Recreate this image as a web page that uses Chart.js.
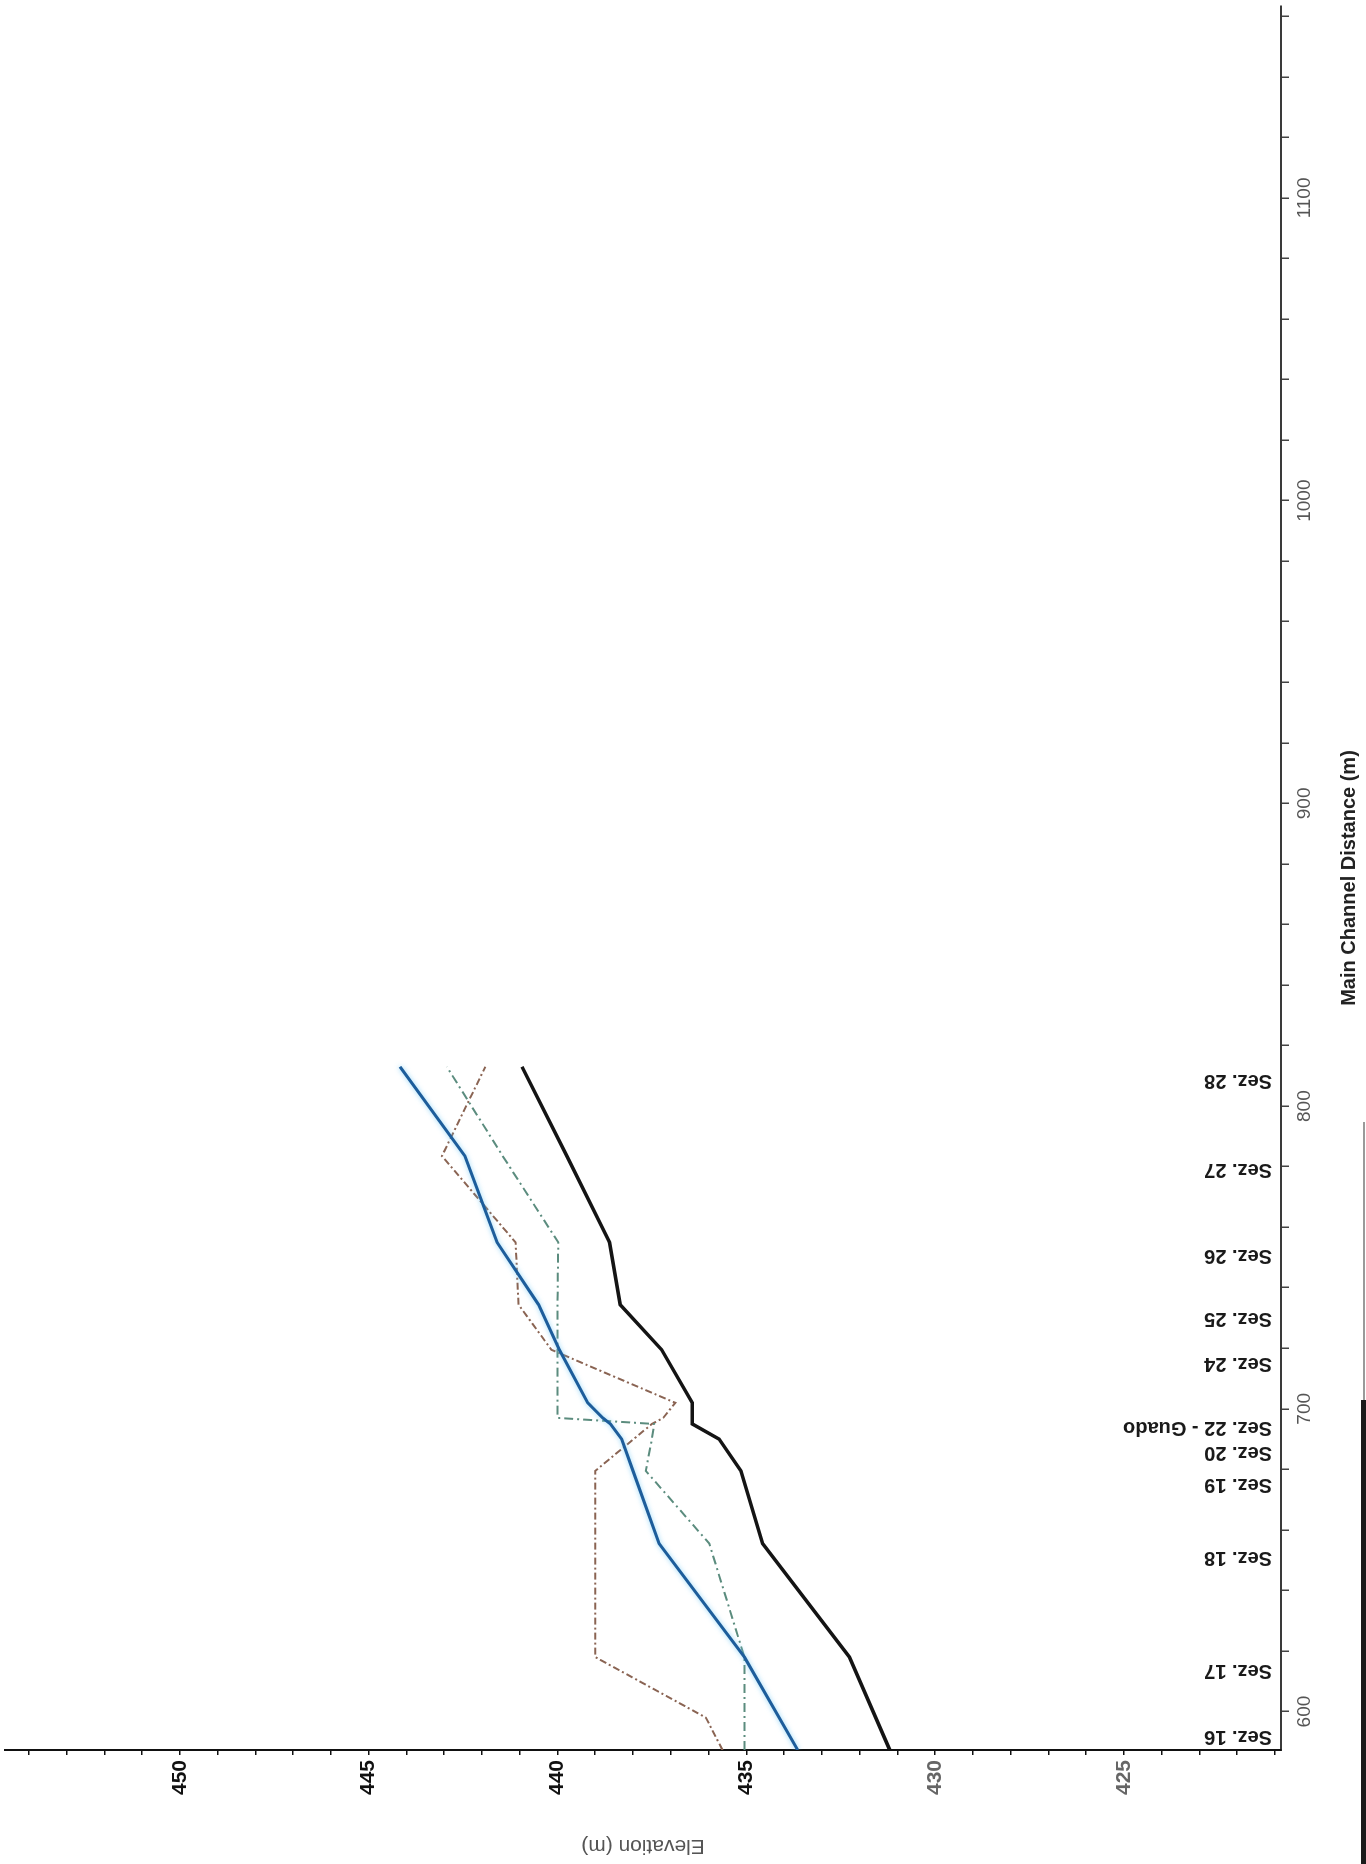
<!DOCTYPE html>
<html>
<head>
<meta charset="utf-8">
<script src="https://cdn.jsdelivr.net/npm/chart.js@4.4.1/dist/chart.umd.min.js"></script>
<style>
  html, body { margin: 0; padding: 0; background: #fff; }
  body { width: 1366px; height: 1864px; position: relative; overflow: hidden; }
  #rot { position: absolute; left: 0; top: 0; width: 1864px; height: 1366px;
         transform-origin: 0 0; transform: translate(0px, 1864px) rotate(-90deg); }
  #edgeThin { position: absolute; left: 1363px; top: 1122px; width: 2px; height: 280px; background: #9a9a9a; }
  #edgeThick { position: absolute; left: 1361px; top: 1400px; width: 5px; height: 464px; background: #1a1a1a; }
</style>
</head>
<body>
<div id="rot"><canvas id="c" width="1864" height="1366"></canvas></div>
<div id="edgeThin"></div>
<div id="edgeThick"></div>
<script>
// ---- data (main channel distance in m, elevation in m) ----
const stations     = [587.3, 598, 618, 655.5, 679.5, 690, 695, 697, 702, 719.5, 734.4, 755, 783.5, 813];
const groundElev   = [431.2, null, 432.27, 434.57, 435.14, 435.72, 436.43, 436.43, 436.43, 437.24, 438.34, 438.62, 439.75, 440.94];
const wsElev       = [433.64, null, 435.05, 437.31, 438.0, 438.3, 438.6, 438.8, 439.2, 439.95, 440.5, 441.6, 442.45, 444.17];
const leftBankElev = [435.05, null, 435.05, 435.98, 437.66, 437.5, 437.44, 440.0, 440.0, 440.0, 440.0, 439.98, 441.45, 442.93];
const rightBankElev= [435.63, 436.07, 439.0, 439.0, 439.0, null, 437.5, 437.2, 436.88, 440.16, 441.03, 441.11, 443.06, 441.91];

const sectionNames = ['Sez. 16', 'Sez. 17', 'Sez. 18', 'Sez. 19', 'Sez. 20', 'Sez. 22 - Guado',
                      'Sez. 24', 'Sez. 25', 'Sez. 26', 'Sez. 27', 'Sez. 28'];
const sectionPos   = [587.3, 618, 655.5, 679.5, 690, 698.3, 719.5, 734.4, 755, 783.5, 813];

const distanceTickLabels  = [600, 700, 800, 900, 1000, 1100];
const elevationTickLabels = [425, 430, 435, 440, 445, 450];

const distRange = { min: 587.3, max: 1163.4 };
const elevRange = { min: 420.84, max: 454.63 };

// minor tick mark positions
const distMinor = [];
for (let v = 600; v <= 1160; v += 20) distMinor.push(v);
const elevMinor = [];
for (let v = 421; v <= 454; v += 1) elevMinor.push(v);

function pts(vals) {
  return stations.map((s, i) => ({ x: s, y: vals[i] }));
}

const FONT = '"Liberation Sans", Arial, sans-serif';

const sectionLabelPlugin = {
  id: 'sectionLabels',
  beforeDatasetDraw(chart, args) {
    if (args.index === 1) {
      const ctx = chart.ctx;
      ctx.save();
      ctx.shadowColor = 'rgba(110, 200, 245, 0.75)';
      ctx.shadowBlur = 5;
    }
  },
  afterDatasetDraw(chart, args) {
    if (args.index === 1) chart.ctx.restore();
  },
  afterDatasetsDraw(chart) {
    const { ctx, chartArea, scales } = chart;
    const xs = scales.x;
    ctx.save();
    ctx.font = 'bold 20px ' + FONT;
    ctx.fillStyle = '#1a1a1a';
    ctx.textAlign = 'left';
    ctx.textBaseline = 'middle';
    sectionNames.forEach((name, i) => {
      let px = xs.getPixelForValue(sectionPos[i]) - 13.5;
      px = Math.max(px, chartArea.left + 13);
      ctx.save();
      ctx.translate(px, chartArea.bottom - 9);
      ctx.rotate(-Math.PI / 2);
      ctx.fillText(name, 0, 0);
      ctx.restore();
    });
    ctx.restore();
  }
};

new Chart(document.getElementById('c'), {
  type: 'line',
  data: {
    datasets: [
      { label: 'Ground', data: pts(groundElev), borderColor: '#141414', borderWidth: 3.5,
        pointRadius: 0, spanGaps: true, tension: 0 },
      { label: 'WS', data: pts(wsElev), borderColor: '#1d5d9b', borderWidth: 3,
        pointRadius: 0, spanGaps: true, tension: 0 },
      { label: 'Left Bank', data: pts(leftBankElev), borderColor: '#5b8c7e', borderWidth: 2,
        borderDash: [9, 4, 2, 4], pointRadius: 0, spanGaps: true, tension: 0 },
      { label: 'Right Bank', data: pts(rightBankElev), borderColor: '#8a6453', borderWidth: 2,
        borderDash: [7, 3, 2, 3], pointRadius: 0, spanGaps: true, tension: 0 }
    ]
  },
  options: {
    responsive: false,
    animation: false,
    devicePixelRatio: 1,
    layout: { padding: { top: 5, right: 6, bottom: 0, left: 0 } },
    plugins: { legend: { display: false }, tooltip: { enabled: false } },
    scales: {
      x: {
        type: 'linear',
        position: 'bottom',
        min: distRange.min,
        max: distRange.max,
        afterBuildTicks: (s) => { s.ticks = distMinor.map(v => ({ value: v })); },
        afterFit: (s) => { s.height = 85; s.paddingLeft = 0; s.paddingRight = 0; },
        grid: { drawOnChartArea: false, drawTicks: true, tickLength: 8, color: '#444', lineWidth: 1.5 },
        border: { display: true, color: '#3a3a3a', width: 2 },
        ticks: {
          autoSkip: false, maxRotation: 0, minRotation: 0, padding: 4,
          color: '#555',
          font: { family: FONT, size: 19 },
          callback: (v) => distanceTickLabels.includes(v) ? String(v) : ''
        },
        title: {
          display: true, text: 'Main Channel Distance (m)', color: '#222',
          font: { family: FONT, size: 20, weight: 'bold' },
          padding: { top: 0, bottom: 5 }
        }
      },
      y: {
        type: 'linear',
        position: 'left',
        min: elevRange.min,
        max: elevRange.max,
        afterBuildTicks: (s) => { s.ticks = elevMinor.map(v => ({ value: v })); },
        afterFit: (s) => { s.width = 114; s.paddingTop = 0; s.paddingBottom = 0; },
        grid: { drawOnChartArea: false, drawTicks: true, tickLength: 5, color: '#111', lineWidth: 1.5 },
        border: { display: true, color: '#111', width: 2 },
        ticks: {
          autoSkip: false, padding: 5,
          color: (ctx) => (ctx.tick && ctx.tick.value <= 430) ? '#666' : '#111',
          font: { family: FONT, size: 21, weight: 'bold' },
          callback: (v) => elevationTickLabels.includes(v) ? String(v) : ''
        },
        title: {
          display: true, text: 'Elevation (m)', color: '#555',
          font: { family: FONT, size: 21 },
          padding: { top: 6, bottom: 0 }
        }
      }
    }
  },
  plugins: [sectionLabelPlugin]
});
</script>
</body>
</html>
